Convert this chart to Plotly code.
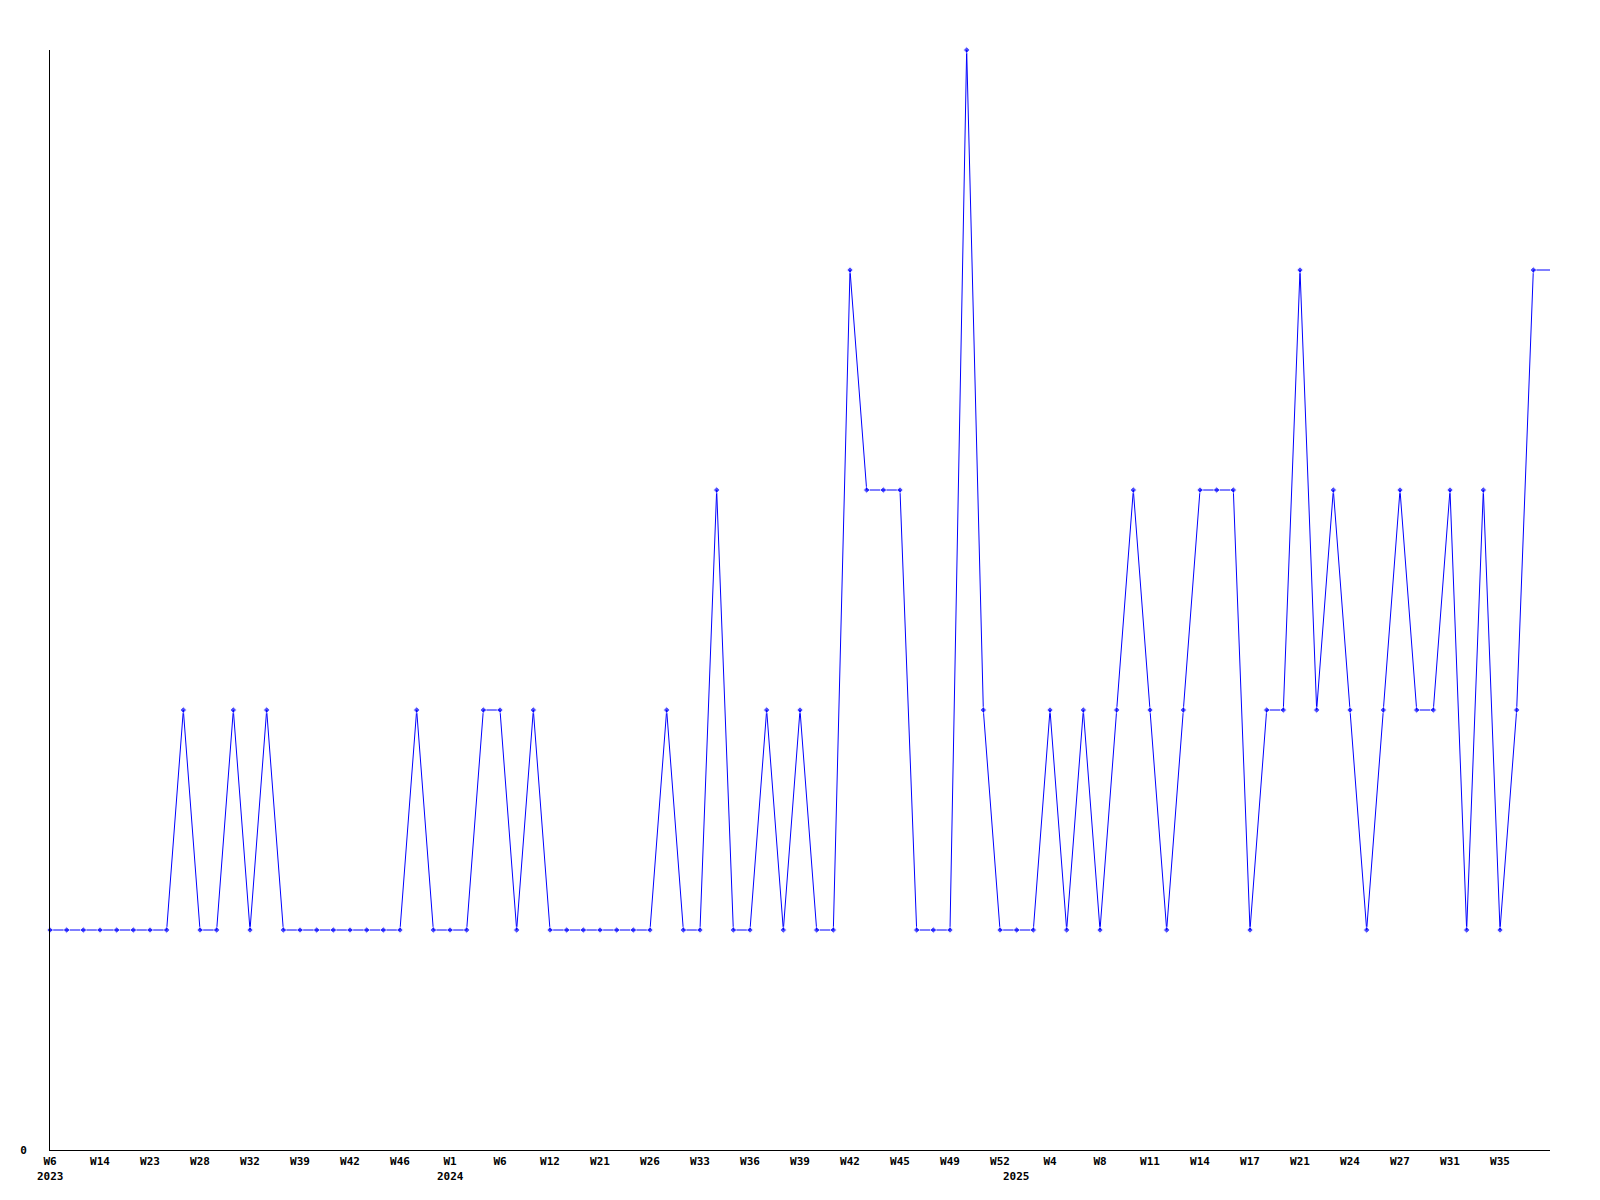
import plotly.graph_objects as go

values = [1, 1, 1, 1, 1, 1, 1, 1, 2, 1,
          1, 2, 1, 2, 1, 1, 1, 1, 1, 1,
          1, 1, 2, 1, 1, 1, 2, 2, 1, 2,
          1, 1, 1, 1, 1, 1, 1, 2, 1, 1,
          3, 1, 1, 2, 1, 2, 1, 1, 4, 3,
          3, 3, 1, 1, 1, 5, 2, 1, 1, 1,
          2, 1, 2, 1, 2, 3, 2, 1, 2, 3,
          3, 3, 1, 2, 2, 4, 2, 3, 2, 1,
          2, 3, 2, 2, 3, 1, 3, 1, 2, 4,
          4]

tick_labels = ["W6", "W14", "W23", "W28", "W32", "W39", "W42", "W46", "W1", "W6",
               "W12", "W21", "W26", "W33", "W36", "W39", "W42", "W45", "W49", "W52",
               "W4", "W8", "W11", "W14", "W17", "W21", "W24", "W27", "W31", "W35"]
tick_index = list(range(0, 90, 3))

year_labels = ["2023", "2024", "2025"]
year_index = [0, 24, 58]

x = list(range(len(values)))
sizes = [5] * (len(values) - 1) + [0]

font = dict(family="DejaVu Sans Mono", size=11, color="black", weight="bold")

fig = go.Figure()
fig.add_trace(go.Scatter(
    x=x, y=values, mode="lines+markers",
    line=dict(color="#0000ff", width=1),
    marker=dict(symbol="diamond", size=sizes, color="#0000ff"),
    cliponaxis=False, hoverinfo="skip", showlegend=False,
))

for yi, yl in zip(year_index, year_labels):
    fig.add_annotation(x=yi, y=0, xref="x", yref="y", text=yl, showarrow=False,
                       yshift=-26, yanchor="middle", xanchor="center", font=font)

fig.update_layout(
    width=1600, height=1200,
    margin=dict(l=42, r=58, t=42, b=58),
    paper_bgcolor="white", plot_bgcolor="white",
    font=font,
)
fig.update_xaxes(range=[0, 90], tickvals=tick_index, ticktext=tick_labels,
                 showgrid=False, zeroline=False, showline=True, linecolor="black",
                 linewidth=1, ticks="", ticklabelstandoff=1, tickfont=font,
                 automargin=False)
fig.update_yaxes(range=[0, 5], tickvals=[0], ticktext=["0"],
                 showgrid=False, zeroline=False, showline=True, linecolor="black",
                 linewidth=1, ticks="", ticklabelstandoff=20, tickfont=font,
                 automargin=False)

fig.write_html("out.html")
